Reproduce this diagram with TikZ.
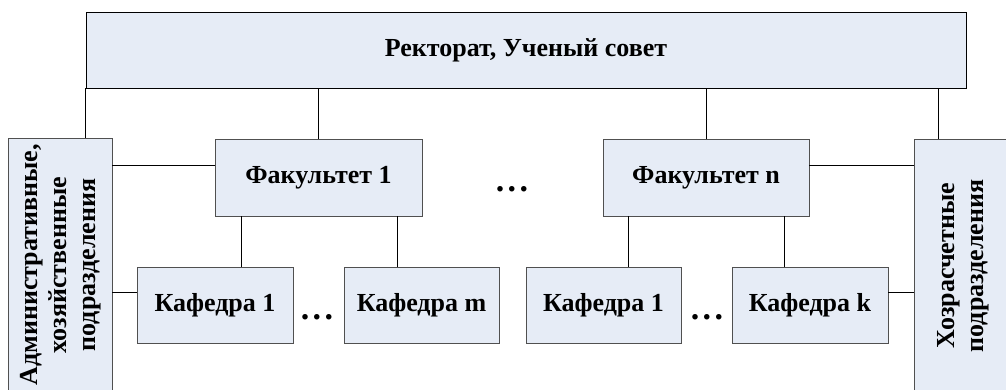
\documentclass[tikz,border=0pt]{standalone}
\usepackage{fontspec}
\setmainfont{Liberation Serif}
\definecolor{boxfill}{HTML}{E6ECF6}
\definecolor{boxline}{HTML}{505050}
\newcommand{\mydots}{.\hspace{3.5pt}.\hspace{3.5pt}.}
\begin{document}
\begin{tikzpicture}[x=1pt,y=-1pt,
  box/.style={draw=boxline,fill=boxfill,line width=0.9pt,inner sep=0pt,font=\bfseries\fontsize{26}{30}\selectfont,align=center},
  lbl/.style={inner sep=0pt,font=\bfseries\fontsize{26}{29}\selectfont,align=center},
  conn/.style={draw=black,line width=0.9pt},
  dots/.style={font=\bfseries\fontsize{34}{36}\selectfont,inner sep=0pt,anchor=base}]
\useasboundingbox (0,0) rectangle (1006,390);
\clip (0,0) rectangle (1006,390);
\node[box,draw=black,minimum width=880pt,minimum height=76pt] (top) at (526,50) {Ректорат, Ученый совет};
\node[box,minimum width=104pt,minimum height=262pt] (left) at (60,269) {};
\node[lbl,rotate=90] (lefttxt) at (61,265) {Административные,\\хозяйственные\\подразделения};
\node[box,minimum width=96pt,minimum height=262pt] (right) at (962,270) {};
\node[lbl,rotate=90] (righttxt) at (963,266) {Хозрасчетные\\подразделения};
\node[box,minimum width=207pt,minimum height=77pt] (fak1) at (318.5,177.5) {Факультет 1};
\node[box,minimum width=206pt,minimum height=77pt] (fakn) at (706,177.5) {Факультет n};
\node[box,minimum width=156pt,minimum height=76pt] (kaf1) at (215,305) {Кафедра 1};
\node[box,minimum width=155pt,minimum height=76pt] (kafm) at (421.5,305) {Кафедра m};
\node[box,minimum width=155pt,minimum height=76pt] (kaf1b) at (603.5,305) {Кафедра 1};
\node[box,minimum width=156pt,minimum height=76pt] (kafk) at (810,305) {Кафедра k};
\node[dots] (d1) at (512,192) {\mydots};
\node[dots] (d2) at (317,319) {\mydots};
\node[dots] (d3) at (707,319) {\mydots};
% top connectors
\draw[conn] (top.south west) -- (top.south west |- left.north);
\draw[conn] (fak1.north) -- (fak1.north |- top.south);
\draw[conn] (fakn.north) -- (fakn.north |- top.south);
\draw[conn] ([xshift=25pt]right.north west) -- ([xshift=25pt]right.north west |- top.south);
% side connectors
\draw[conn] ([yshift=12.5pt]fak1.west) -- ([yshift=12.5pt]fak1.west -| left.east);
\draw[conn] ([yshift=12.5pt]fakn.east) -- ([yshift=12.5pt]fakn.east -| right.west);
\draw[conn] ([yshift=13pt]kaf1.west) -- ([yshift=13pt]kaf1.west -| left.east);
\draw[conn] ([yshift=13pt]kafk.east) -- ([yshift=13pt]kafk.east -| right.west);
% faculty to departments
\draw[conn] ([xshift=26pt]kaf1.north) -- ([xshift=26pt]kaf1.north |- fak1.south);
\draw[conn] ([xshift=-24.5pt]kafm.north) -- ([xshift=-24.5pt]kafm.north |- fak1.south);
\draw[conn] ([xshift=24.5pt]kaf1b.north) -- ([xshift=24.5pt]kaf1b.north |- fakn.south);
\draw[conn] ([xshift=-26pt]kafk.north) -- ([xshift=-26pt]kafk.north |- fakn.south);
\end{tikzpicture}
\end{document}
